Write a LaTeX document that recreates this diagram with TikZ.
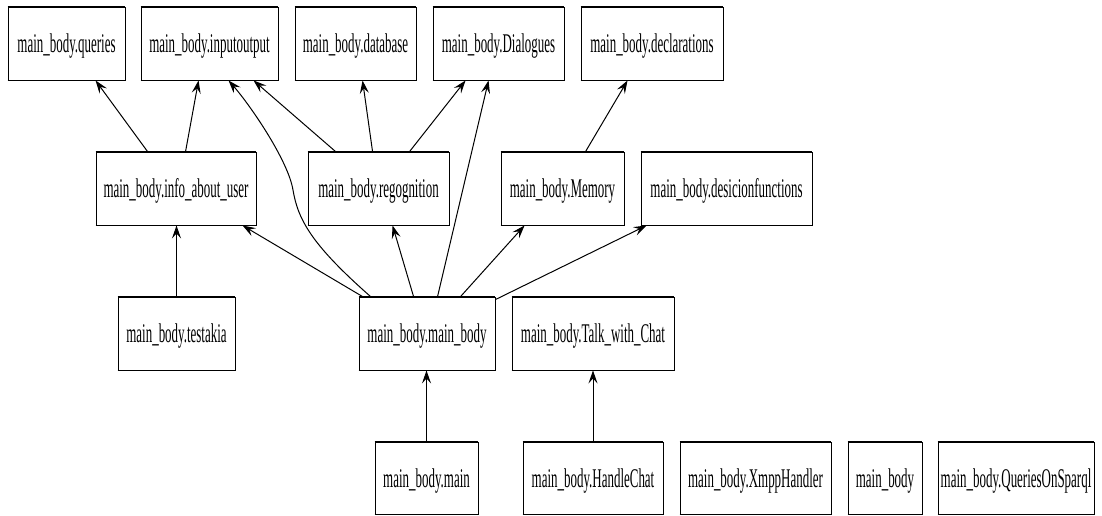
\documentclass[tikz,border=0pt]{standalone}
\usepackage{fontspec}
\setmainfont{Liberation Serif}
\usepackage{graphicx}
\usetikzlibrary{arrows.meta,calc}
\newcommand\gvlbl[1]{\scalebox{0.48}[1]{#1}}
\begin{document}
\begin{tikzpicture}[x=1pt,y=-1pt,
  box/.style={draw,line width=0.9pt,minimum height=73pt,inner sep=0pt,text height=18pt,text depth=0pt,font=\fontsize{27}{30}\selectfont},
  boxedge/.style={line width=1.9pt},
  dep/.style={-{Stealth[length=13pt,width=9pt,inset=5pt]},line width=1pt}]
\useasboundingbox (0,0) rectangle (1102,515);
% row 1
\node[box,minimum width=117pt] (q)   at (66.5,43.5)  {\gvlbl{main\_body.queries}};
\node[box,minimum width=137pt] (io)  at (209.5,43.5) {\gvlbl{main\_body.inputoutput}};
\node[box,minimum width=121pt] (db)  at (355.5,43.5) {\gvlbl{main\_body.database}};
\node[box,minimum width=131pt] (dia) at (498.5,43.5) {\gvlbl{main\_body.Dialogues}};
\node[box,minimum width=142pt] (dec) at (652,43.5)   {\gvlbl{main\_body.declarations}};
% row 2
\node[box,minimum width=160pt] (iau) at (176,188.5)   {\gvlbl{main\_body.info\_about\_user}};
\node[box,minimum width=141pt] (reg) at (378.5,188.5) {\gvlbl{main\_body.regognition}};
\node[box,minimum width=123pt] (mem) at (562.5,188.5) {\gvlbl{main\_body.Memory}};
\node[box,minimum width=171pt] (des) at (726.5,188.5) {\gvlbl{main\_body.desicionfunctions}};
% row 3
\node[box,minimum width=117pt] (tst) at (176.5,333.5) {\gvlbl{main\_body.testakia}};
\node[box,minimum width=136pt] (mb)  at (427,333.5)   {\gvlbl{main\_body.main\_body}};
\node[box,minimum width=162pt] (twc) at (593,333.5)   {\gvlbl{main\_body.Talk\_with\_Chat}};
% row 4
\node[box,minimum width=103pt,minimum height=72pt] (mn)  at (426.5,478) {\gvlbl{main\_body.main}};
\node[box,minimum width=140pt,minimum height=72pt] (hc)  at (593,478)   {\gvlbl{main\_body.HandleChat}};
\node[box,minimum width=151pt,minimum height=72pt] (xh)  at (755.5,478) {\gvlbl{main\_body.XmppHandler}};
\node[box,minimum width=74pt,minimum height=72pt]  (pkg) at (885,478)   {\gvlbl{main\_body}};
\node[box,minimum width=156pt,minimum height=72pt] (qs)  at (1016,478)  {\gvlbl{main\_body.QueriesOnSparql}};
% thicker horizontal box edges
\foreach \n in {q,io,db,dia,dec,iau,reg,mem,des,tst,mb,twc,mn,hc,xh,pkg,qs}
  \draw[boxedge] (\n.north west) -- (\n.north east) (\n.south west) -- (\n.south east);
% edges
\draw[dep] ($(iau.north west)+(52,0)$) -- ($(q.south west)+(88,0)$);
\draw[dep] ($(iau.north west)+(90,0)$) -- ($(io.south west)+(58,0)$);
\draw[dep] ($(mb.north west)+(12,0)$) .. controls (312,245) and (298,220) .. (293,190)
           .. controls (288,160) and (250,105) .. ($(io.south west)+(88,0)$);
\draw[dep] ($(reg.north west)+(28,0)$) -- ($(io.south west)+(113,0)$);
\draw[dep] ($(reg.north west)+(65,0)$) -- ($(db.south west)+(68,0)$);
\draw[dep] ($(reg.north west)+(102,0)$) -- ($(dia.south west)+(33,0)$);
\draw[dep] ($(mb.north west)+(79,0)$) -- ($(dia.south west)+(56,0)$);
\draw[dep] ($(mem.north west)+(85,0)$) -- ($(dec.south west)+(47,0)$);
\draw[dep] ($(mb.north west)+(4,0)$) -- ($(iau.south west)+(147,0)$);
\draw[dep] ($(mb.north west)+(55,0)$) -- ($(reg.south west)+(85,0)$);
\draw[dep] ($(mb.north west)+(102,0)$) -- ($(mem.south west)+(24,0)$);
\draw[dep] ($(mb.north east)+(0,3)$) -- ($(des.south west)+(6,0)$);
\draw[dep] (tst.north) -- (tst.north |- iau.south);
\draw[dep] (mn.north) -- (mn.north |- mb.south);
\draw[dep] (hc.north) -- (twc.south);
\end{tikzpicture}
\end{document}
